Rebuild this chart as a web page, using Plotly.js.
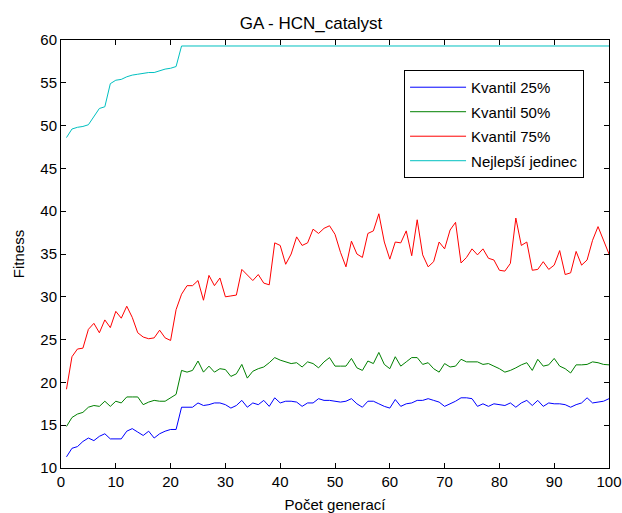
<!DOCTYPE html>
<html>
<head>
<meta charset="utf-8">
<script src="https://cdn.plot.ly/plotly-3.0.1.min.js"></script>
<style>
  html, body { margin: 0; padding: 0; background: #ffffff; }
  #chart { width: 622px; height: 513px; }
</style>
</head>
<body>
<div id="chart"></div>
<script>
// Generation index
const generations = [
  1,2,3,4,5,6,7,8,9,10,11,12,13,14,15,16,17,18,19,20,
  21,22,23,24,25,26,27,28,29,30,31,32,33,34,35,36,37,38,39,40,
  41,42,43,44,45,46,47,48,49,50,51,52,53,54,55,56,57,58,59,60,
  61,62,63,64,65,66,67,68,69,70,71,72,73,74,75,76,77,78,79,80,
  81,82,83,84,85,86,87,88,89,90,91,92,93,94,95,96,97,98,99,100
];

// 25% quantile of population fitness
const kvantil25 = [
  11.3,12.3,12.5,13.1,13.5,13.2,13.7,14.0,13.4,13.4,13.4,14.3,14.6,14.2,13.8,14.3,13.5,14.0,14.3,14.5,
  14.5,17.1,17.1,17.1,17.6,17.3,17.4,17.6,17.6,17.4,17.0,17.3,17.9,17.1,17.6,17.4,17.9,17.2,18.2,17.6,
  17.8,17.8,17.7,17.2,17.6,17.6,18.1,17.9,17.9,17.8,17.7,17.8,18.1,17.5,17.1,17.8,17.8,17.5,17.2,17.0,
  18.0,17.2,17.5,17.6,17.9,17.9,18.1,17.9,17.7,17.2,17.5,17.8,18.2,18.2,18.1,17.2,17.5,17.2,17.5,17.4,
  17.3,17.6,17.1,17.6,17.9,17.3,17.9,17.2,17.6,17.5,17.5,17.4,17.1,17.4,17.6,18.2,17.6,17.7,17.8,18.1
];

// 50% quantile (median)
const kvantil50 = [
  14.85,15.9,16.3,16.5,17.1,17.3,17.2,17.8,17.2,17.8,17.6,18.3,18.3,18.3,17.4,17.7,17.9,17.8,17.8,18.2,
  18.6,21.4,21.2,21.4,22.5,21.2,21.9,21.2,21.6,21.5,20.7,21.0,22.1,20.5,21.3,21.6,21.8,22.3,22.9,22.6,
  22.4,22.2,22.3,21.8,22.4,22.2,21.7,22.4,22.9,21.9,21.9,21.9,22.8,21.7,21.4,22.5,22.2,23.5,22.1,21.6,
  23.0,21.9,22.4,22.9,22.9,22.1,22.3,21.6,21.2,22.2,21.8,21.9,22.7,22.4,22.4,22.4,22.1,22.2,21.9,21.6,
  21.2,21.4,21.7,22.05,22.3,21.4,22.7,21.9,22.05,22.8,21.9,21.6,21.1,22.05,22.05,22.1,22.4,22.3,22.1,22.05
];

// 75% quantile
const kvantil75 = [
  19.2,23.0,23.9,24.0,26.2,26.9,25.8,27.3,26.4,28.3,27.5,28.9,27.6,25.8,25.3,25.1,25.2,26.1,25.2,24.9,
  28.5,30.3,31.3,31.3,31.9,29.6,32.5,31.3,32.2,30.0,30.1,30.2,33.2,32.5,31.9,32.6,31.6,31.4,36.3,36.0,
  33.8,35.0,37.0,36.0,36.3,37.9,37.4,38.0,38.3,37.3,35.2,33.5,36.5,35.0,34.6,37.4,37.7,39.7,36.4,34.4,
  36.4,36.3,37.7,34.8,39.0,34.9,33.5,34.1,36.4,35.6,37.8,38.7,33.95,34.6,35.6,34.9,35.6,34.5,34.3,33.1,
  33.0,33.9,39.2,36.0,36.4,33.1,33.2,34.1,33.2,33.7,35.4,32.6,32.8,35.3,33.7,34.3,36.6,38.2,36.6,35.0
];

// Best individual
const nejlepsi = [
  48.6,49.6,49.8,49.9,50.1,51.0,52.0,52.2,54.9,55.3,55.4,55.7,55.9,56.0,56.1,56.2,56.2,56.4,56.6,56.7,
  56.9,59.3,59.3,59.3,59.3,59.3,59.3,59.3,59.3,59.3,59.3,59.3,59.3,59.3,59.3,59.3,59.3,59.3,59.3,59.3,
  59.3,59.3,59.3,59.3,59.3,59.3,59.3,59.3,59.3,59.3,59.3,59.3,59.3,59.3,59.3,59.3,59.3,59.3,59.3,59.3,
  59.3,59.3,59.3,59.3,59.3,59.3,59.3,59.3,59.3,59.3,59.3,59.3,59.3,59.3,59.3,59.3,59.3,59.3,59.3,59.3,
  59.3,59.3,59.3,59.3,59.3,59.3,59.3,59.3,59.3,59.3,59.3,59.3,59.3,59.3,59.3,59.3,59.3,59.3,59.3,59.3
];

const seriesNames = ['Kvantil 25%', 'Kvantil 50%', 'Kvantil 75%', 'Nejlepší jedinec'];
const xTicks = [0,10,20,30,40,50,60,70,80,90,100];
const yTicks = [10,15,20,25,30,35,40,45,50,55,60];

const FONT = 'Liberation Sans, Arial, Helvetica, sans-serif';

function lineTrace(y, name, color, group) {
  return {
    type: 'scatter', mode: 'lines',
    x: generations, y: y, name: name, legendgroup: group,
    line: { color: color, width: 1 },
    hoverinfo: 'skip'
  };
}

const traces = [
  lineTrace(kvantil25, seriesNames[0], '#0000ff', 'a'),
  lineTrace(kvantil50, seriesNames[1], '#008000', 'b'),
  lineTrace(kvantil75, seriesNames[2], '#ff0000', 'c'),
  lineTrace(nejlepsi, seriesNames[3], '#00c0c0', 'd')
];

const axisCommon = {
  showgrid: false, zeroline: false,
  showline: true, linecolor: '#000000', linewidth: 1,
  mirror: 'ticks', ticks: 'inside', ticklen: 5, tickwidth: 1, tickcolor: '#000000',
  tickfont: { family: FONT, size: 15, color: '#000000' }
};

const layout = {
  width: 622, height: 513,
  paper_bgcolor: '#ffffff', plot_bgcolor: '#ffffff',
  margin: { l: 60.5, r: 13, t: 40, b: 45 },
  font: { family: FONT, size: 15, color: '#000000' },
  title: {
    text: 'GA - HCN_catalyst',
    font: { family: FONT, size: 17, color: '#000000' },
    x: 0.5, xanchor: 'center', y: 0.956, yanchor: 'middle'
  },
  xaxis: Object.assign({}, axisCommon, {
    range: [0, 100], tickmode: 'array', tickvals: xTicks, ticktext: xTicks.map(String),
    title: { text: 'Počet generací', font: { family: FONT, size: 15, color: '#000000' }, standoff: 13 }
  }),
  yaxis: Object.assign({}, axisCommon, {
    range: [10, 60], tickmode: 'array', tickvals: yTicks, ticktext: yTicks.map(String),
    title: { text: 'Fitness', font: { family: FONT, size: 15, color: '#000000' }, standoff: 12 }
  }),
  showlegend: true,
  legend: {
    x: 0.626, xanchor: 'left', y: 0.93, yanchor: 'top',
    bgcolor: '#ffffff', bordercolor: '#000000', borderwidth: 1,
    font: { family: FONT, size: 15, color: '#000000' },
    tracegroupgap: 2, traceorder: 'grouped', itemwidth: 56
  }
};

Plotly.newPlot('chart', traces, layout, { staticPlot: true, displayModeBar: false });
</script>
</body>
</html>
